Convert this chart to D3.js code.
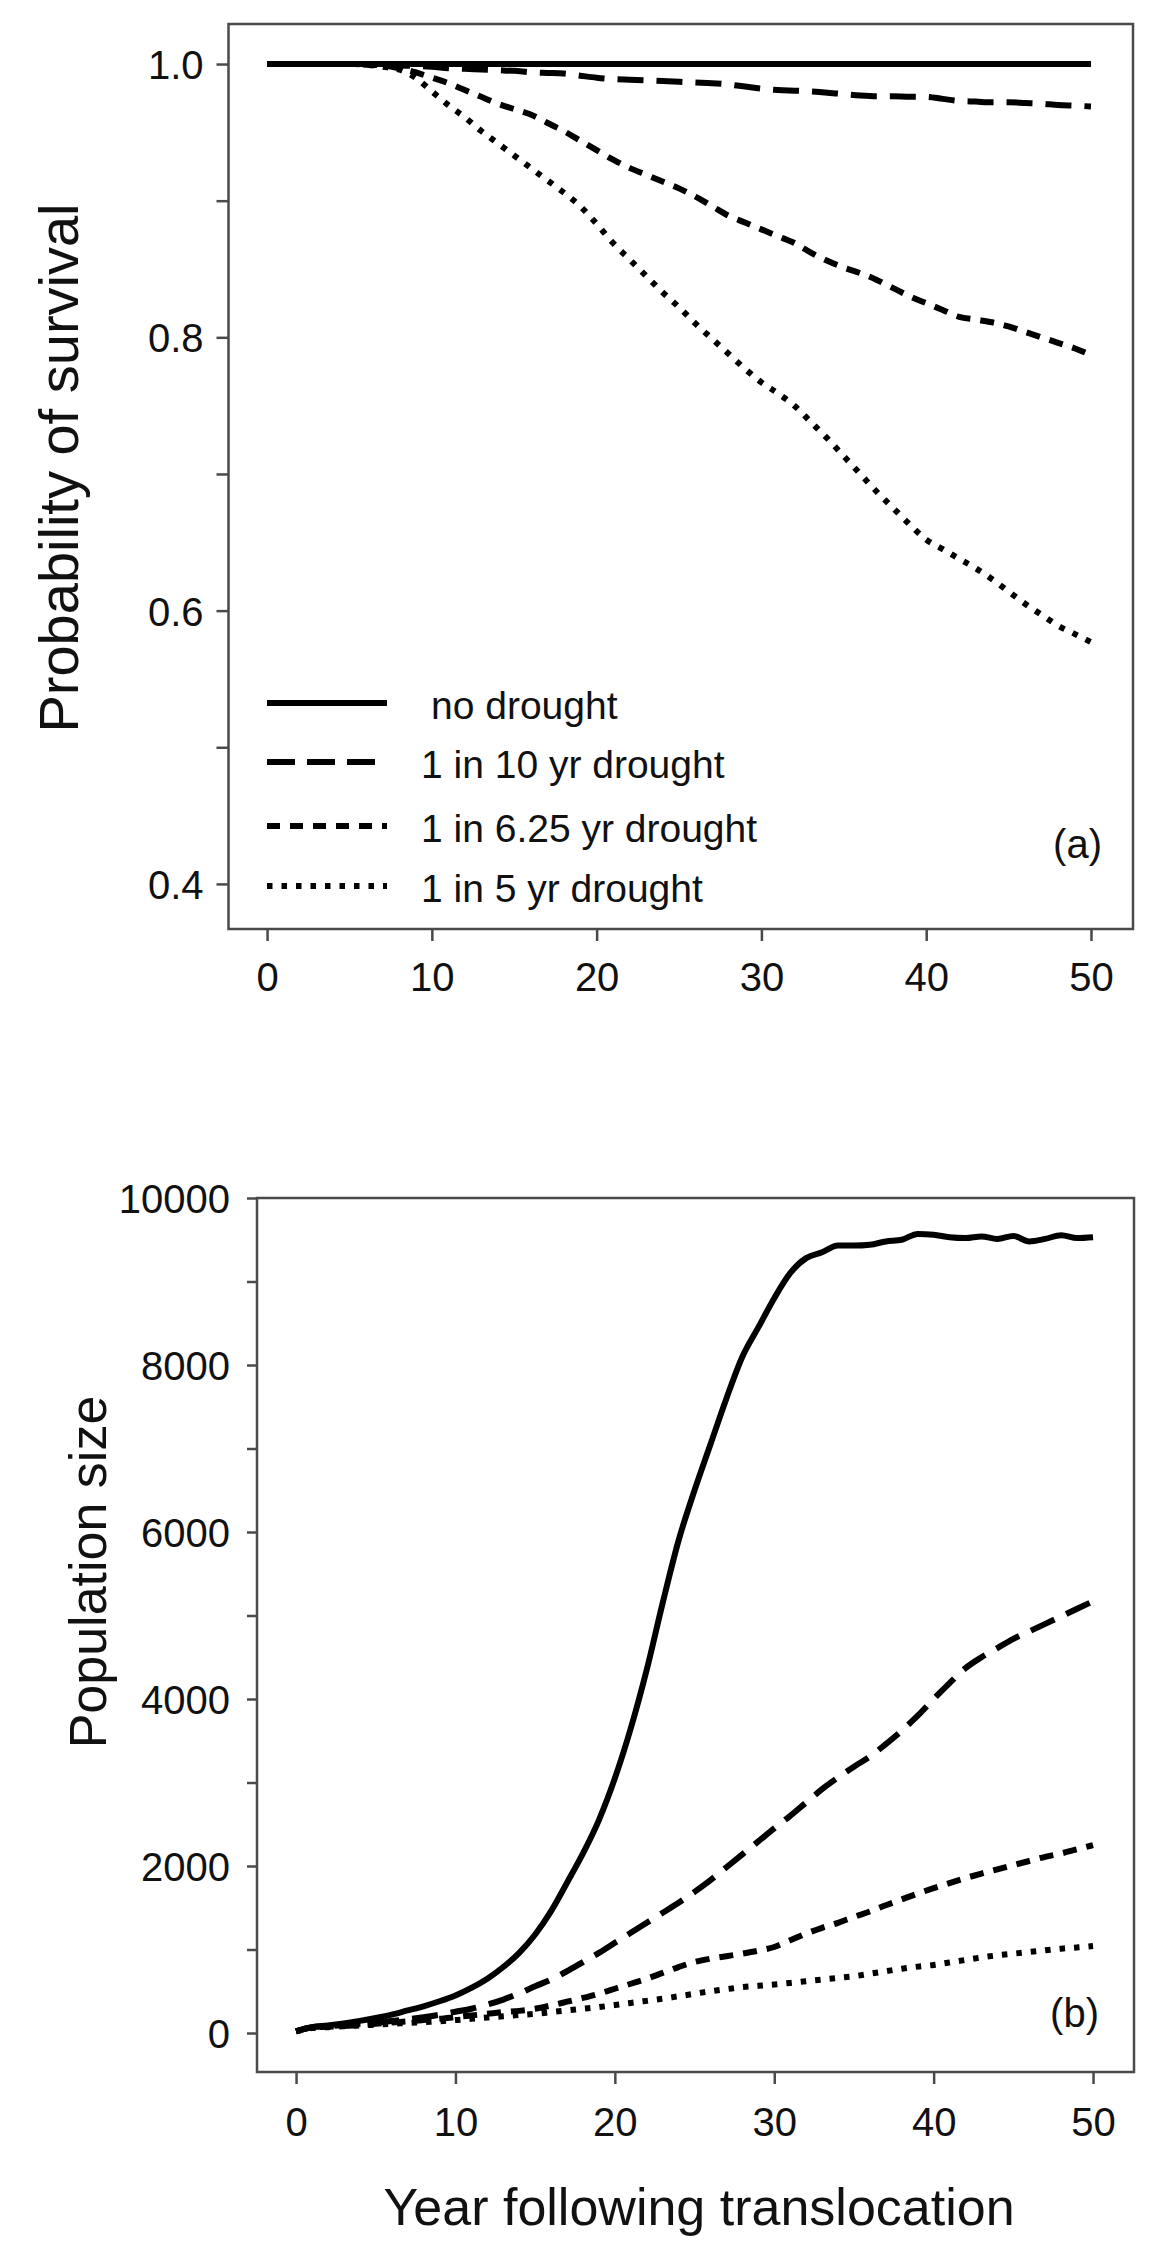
<!DOCTYPE html>
<html>
<head>
<meta charset="utf-8">
<title>Survival and population size under drought scenarios</title>
<script src="https://d3js.org/d3.v7.min.js"></script>
<style>
  body { margin: 0; background: #fff; }
  text { font-family: 'Liberation Sans', Arial, sans-serif; fill: #111; }
  .frame { fill: none; stroke: #4a4a4a; stroke-width: 2.5; }
  .axis path { display: none; }
  .axis line { stroke: #4a4a4a; stroke-width: 2.5; }
  .axis text { font-size: 40px; fill: #111; }
  .series { fill: none; stroke: #000; stroke-width: 6; stroke-linejoin: round; }
</style>
</head>
<body>
<svg id="chart" width="1166" height="2262"></svg>
<script>
// years following translocation
var years = [0,1,2,3,4,5,6,7,8,9,10,11,12,13,14,15,16,17,18,19,20,21,22,23,24,25,
             26,27,28,29,30,31,32,33,34,35,36,37,38,39,40,41,42,43,44,45,46,47,48,49,50];

var scenarios = ["no drought", "1 in 10 yr drought", "1 in 6.25 yr drought", "1 in 5 yr drought"];

// (a) probability of survival
var survNone = [1,1,1,1,1,1,1,1,1,1,1,1,1,1,1,1,1,1,1,1,1,1,1,1,1,1,
                1,1,1,1,1,1,1,1,1,1,1,1,1,1,1,1,1,1,1,1,1,1,1,1,1];
var surv10 = [1,1,1,1,1,1,1,0.9995,0.999,0.9985,0.998,0.997,0.9965,0.996,0.9955,0.995,0.994,0.9935,0.993,0.9915,0.990,
              0.989,0.9885,0.988,0.9875,0.987,0.9865,0.986,0.985,0.9835,0.982,0.981,0.9805,0.980,0.979,0.978,
              0.977,0.9765,0.9765,0.976,0.976,0.9745,0.973,0.9725,0.972,0.972,0.9715,0.971,0.970,0.9695,0.969];
var surv625 = [1,1,1,1,1,1,0.9995,0.999,0.997,0.994,0.990,0.986,0.981,0.976,0.971,0.967,0.963,0.957,0.951,0.944,0.937,
               0.930,0.924,0.919,0.914,0.909,0.903,0.896,0.889,0.884,0.879,0.874,0.869,0.862,0.856,0.851,
               0.847,0.842,0.836,0.830,0.825,0.820,0.815,0.813,0.811,0.808,0.804,0.800,0.796,0.792,0.787];
var surv5 = [1,1,1,1,1,1,0.9995,0.998,0.996,0.990,0.980,0.970,0.961,0.951,0.942,0.933,0.924,0.915,0.906,0.896,0.883,
             0.869,0.857,0.845,0.833,0.822,0.810,0.799,0.788,0.777,0.767,0.759,0.750,0.738,0.726,0.713,
             0.700,0.687,0.675,0.663,0.652,0.645,0.638,0.631,0.623,0.614,0.605,0.597,0.589,0.583,0.577];

// (b) population size
var popNone = [20,70,90,115,145,180,220,270,320,380,450,540,650,790,960,1180,1460,1800,2150,2550,3050,
               3650,4350,5150,5900,6500,7050,7600,8100,8450,8800,9100,9280,9350,9430,9430,
               9440,9480,9500,9570,9560,9530,9520,9540,9510,9545,9480,9510,9555,9520,9530];
var pop10 = [20,70,80,95,110,125,145,165,190,220,255,290,340,400,475,560,640,740,850,960,1080,
             1200,1320,1440,1560,1690,1830,1985,2140,2295,2450,2600,2760,2920,3060,3190,
             3310,3460,3620,3800,4000,4190,4370,4500,4610,4720,4810,4900,4990,5080,5170];
var pop625 = [20,65,75,85,95,110,125,140,155,170,190,210,230,250,265,290,330,375,420,470,530,
              590,650,720,790,850,890,920,950,985,1030,1110,1190,1260,1320,1390,
              1455,1530,1600,1670,1735,1795,1855,1910,1960,2010,2060,2110,2150,2200,2250];
var pop5 = [20,60,70,80,90,100,110,120,130,140,155,170,185,200,215,230,250,270,290,310,335,
            360,385,410,440,470,500,525,550,565,580,600,620,640,660,680,
            710,740,770,795,815,845,875,905,930,950,970,990,1010,1025,1042];

var xTicks = [0, 10, 20, 30, 40, 50];
var survTicks = [0.4, 0.5, 0.6, 0.7, 0.8, 0.9, 1.0];
var survLabels = [0.4, 0.6, 0.8, 1.0];
var popTicks = [0,1000,2000,3000,4000,5000,6000,7000,8000,9000,10000];
var popLabels = [0,2000,4000,6000,8000,10000];

var dashes = [null, "26,13", "14,10", "5.5,9"];
var legendDashes = [null, "28,12", "13,10", "5.5,9"];

var svg = d3.select("#chart");
svg.append("rect").attr("width", 1166).attr("height", 2262).attr("fill", "#fff");

function panel(opt) {
  var x = d3.scaleLinear().domain(opt.xDomain).range([opt.left, opt.right]);
  var y = d3.scaleLinear().domain(opt.yDomain).range([opt.bottom, opt.top]);
  var g = svg.append("g");

  var line = d3.line()
      .curve(d3.curveMonotoneX)
      .x(function(d, i) { return x(years[i]); })
      .y(function(d) { return y(d); });

  opt.series.forEach(function(s, k) {
    g.append("path")
      .datum(s)
      .attr("class", "series")
      .attr("d", line)
      .attr("stroke-dasharray", dashes[k]);
  });

  g.append("rect")
    .attr("class", "frame")
    .attr("x", opt.left).attr("y", opt.top)
    .attr("width", opt.right - opt.left)
    .attr("height", opt.bottom - opt.top);

  g.append("g")
    .attr("class", "axis")
    .attr("transform", "translate(0," + opt.bottom + ")")
    .call(d3.axisBottom(x).tickValues(xTicks).tickSize(12).tickPadding(opt.xPad))
    .selectAll("text").attr("dy", "0.71em");

  g.append("g")
    .attr("class", "axis")
    .attr("transform", "translate(" + opt.left + ",0)")
    .call(d3.axisLeft(y).tickValues(opt.yTicks).tickSize(opt.yTick).tickPadding(opt.yPad)
      .tickFormat(function(d) { return opt.yLabels.indexOf(d) >= 0 ? opt.fmt(d) : ""; }))
    .selectAll("text").attr("dy", "0.36em");

  g.append("text")
    .attr("transform", "translate(" + opt.yTitleX + "," + opt.yTitleY + ") rotate(-90)")
    .attr("text-anchor", "middle")
    .style("font-size", opt.yTitleSize + "px")
    .text(opt.yTitle);

  g.append("text")
    .attr("x", opt.tagX).attr("y", opt.tagY)
    .attr("text-anchor", "end")
    .style("font-size", "40px")
    .text(opt.tag);

  return { x: x, y: y, g: g };
}

var pa = panel({
  left: 228.5, right: 1133, top: 24, bottom: 929,
  xDomain: [-2.34, 52.55], yDomain: [0.3670, 1.0293],
  series: [survNone, surv10, surv625, surv5],
  yTicks: survTicks, yLabels: survLabels, fmt: d3.format(".1f"),
  yTick: 12, yPad: 13, xPad: 22,
  yTitle: "Probability of survival", yTitleX: 78, yTitleY: 468, yTitleSize: 56,
  tag: "(a)", tagX: 1102, tagY: 858
});

var pb = panel({
  left: 257, right: 1134, top: 1198, bottom: 2072,
  xDomain: [-2.45, 52.57], yDomain: [-467, 10000],
  series: [popNone, pop10, pop625, pop5],
  yTicks: popTicks, yLabels: popLabels, fmt: d3.format("d"),
  yTick: 10, yPad: 17, xPad: 24,
  yTitle: "Population size", yTitleX: 106, yTitleY: 1572, yTitleSize: 52,
  tag: "(b)", tagX: 1099, tagY: 2027
});

// legend in panel (a)
var legRows = [703, 762, 826, 886];
var leg = pa.g.append("g");
scenarios.forEach(function(name, k) {
  leg.append("line")
    .attr("x1", 267).attr("x2", 387)
    .attr("y1", legRows[k]).attr("y2", legRows[k])
    .attr("stroke", "#000").attr("stroke-width", 6)
    .attr("stroke-dasharray", legendDashes[k]);
  leg.append("text")
    .attr("x", k === 0 ? 431 : 421)
    .attr("y", legRows[k] + 16)
    .style("font-size", "39px")
    .text(name);
});

// shared x title
svg.append("text")
  .attr("x", 699).attr("y", 2225)
  .attr("text-anchor", "middle")
  .style("font-size", "52px")
  .text("Year following translocation");
</script>
</body>
</html>
